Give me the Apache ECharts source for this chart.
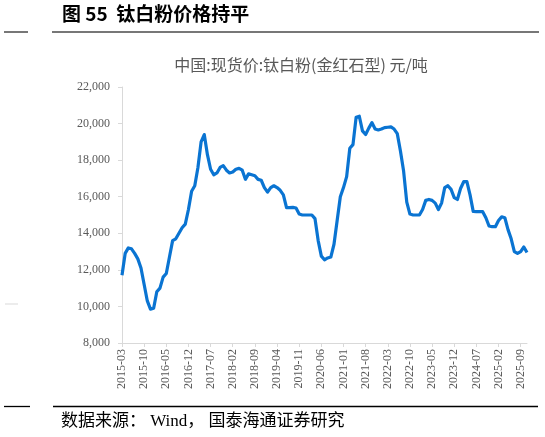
<!DOCTYPE html>
<html><head><meta charset="utf-8">
<script src="https://cdn.jsdelivr.net/npm/echarts@6/dist/echarts.min.js"></script>
<style>html,body{margin:0;padding:0;background:#fff}#c{width:545px;height:437px}</style>
</head><body><div id="c"></div>
<script>
// Monthly categories 2015-03 .. 2025-11
const startYear = 2015, startMonth = 3, monthCount = 129;
const categories = [];
for (let i = 0; i < monthCount; i++) {
  const t = (startMonth - 1) + i;
  const y = startYear + Math.floor(t / 12), m = (t % 12) + 1;
  categories.push(y + '-' + String(m).padStart(2, '0'));
}
// 中国:现货价:钛白粉(金红石型) 元/吨
const priceValues = [
  11700,12900,13200,13150,12900,12600,12100,11200,10300,9850,
  9900,10800,11000,11600,11800,12700,13600,13700,14000,14300,
  14500,15300,16300,16600,17600,19000,19400,18300,17500,17200,
  17300,17600,17700,17450,17300,17350,17500,17550,17450,16950,
  17250,17200,17150,16950,16900,16500,16250,16500,16600,16500,
  16350,16100,15400,15400,15420,15380,15050,15000,15000,15000,
  15000,14800,13600,12750,12550,12650,12700,13400,14700,16000,
  16500,17100,18650,18850,20350,20400,19600,19400,19750,20050,
  19700,19650,19700,19780,19800,19820,19700,19450,18500,17400,
  15700,15050,15000,15000,15000,15300,15800,15850,15800,15650,
  15300,15650,16500,16600,16400,15950,15850,16450,16820,16820,
  16100,15200,15180,15180,15180,14850,14400,14360,14360,14700,
  14900,14850,14200,13700,13000,12900,13000,13250,12950
];
const yMin = 8000, yMax = 22000, yStep = 2000;
const figureTitle = '图 55  钛白粉价格持平';
const chartTitle = '中国:现货价:钛白粉(金红石型) 元/吨';
const sourceText = '数据来源： Wind， 国泰海通证券研究';

const chart = echarts.init(document.getElementById('c'), null, {renderer: 'canvas'});
const serif = '"Liberation Serif", "Noto Sans CJK SC", serif';
chart.setOption({
  animation: false,
  backgroundColor: '#fff',
  title: {
    text: chartTitle, left: 296, textAlign: 'center', top: 52,
    textStyle: {fontSize: 16, fontWeight: 'normal', color: '#595959',
      fontFamily: '"Noto Sans CJK SC", sans-serif'}
  },
  grid: {left: 122, right: 18, top: 87, bottom: 94, containLabel: false},
  xAxis: {
    type: 'category', data: categories, boundaryGap: false,
    axisLine: {lineStyle: {color: '#d9d9d9', width: 1}},
    axisTick: {show: true, interval: 6, length: 4, lineStyle: {color: '#d9d9d9'}},
    axisLabel: {interval: 6, rotate: 90, color: '#595959', fontSize: 12, fontFamily: serif, margin: 6}
  },
  yAxis: {
    type: 'value', min: yMin, max: yMax, interval: yStep,
    axisLine: {show: true, lineStyle: {color: '#d9d9d9', width: 1}},
    axisTick: {show: true, inside: false, length: 4, lineStyle: {color: '#d9d9d9'}},
    splitLine: {show: false},
    axisLabel: {color: '#595959', fontSize: 12, fontFamily: serif, margin: 12,
      formatter: v => v.toLocaleString('en-US')}
  },
  series: [{
    type: 'line', data: priceValues, symbol: 'none', smooth: false,
    lineStyle: {color: '#0a74d2', width: 3.2, join: 'round'}
  }],
  graphic: [
    {type: 'text', left: 62, top: 4, style: {text: figureTitle, font: 'bold 19px "Noto Sans CJK SC", sans-serif', fill: '#000'}},
    {type: 'line', shape: {x1: 4, y1: 32, x2: 28, y2: 32}, style: {stroke: '#777', lineWidth: 2}},
    {type: 'line', shape: {x1: 52, y1: 32, x2: 539, y2: 32}, style: {stroke: '#777', lineWidth: 2}},
    {type: 'line', shape: {x1: 4, y1: 406.5, x2: 30, y2: 406.5}, style: {stroke: '#000', lineWidth: 1.3}},
    {type: 'line', shape: {x1: 53, y1: 406.5, x2: 538, y2: 406.5}, style: {stroke: '#000', lineWidth: 1.3}},
    {type: 'line', shape: {x1: 5, y1: 304, x2: 18, y2: 304}, style: {stroke: '#d9d9d9', lineWidth: 1}},
    {type: 'text', left: 61, top: 413, style: {text: sourceText, font: '17px "Liberation Serif", "Noto Sans CJK SC", serif', fill: '#000'}}
  ]
});
</script></body></html>
